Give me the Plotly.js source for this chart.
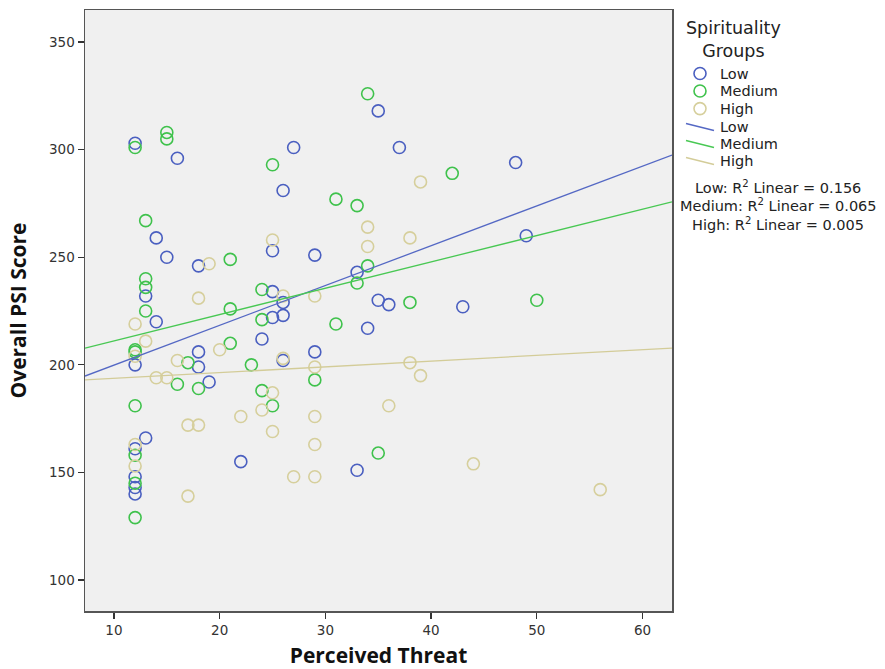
<!DOCTYPE html>
<html>
<head>
<meta charset="utf-8">
<script src="https://cdn.plot.ly/plotly-3.0.1.min.js"></script>
<style>html,body{margin:0;padding:0;background:#fff;}#chart{width:885px;height:669px;}</style>
</head>
<body>
<div id="chart"></div>
<script>
// Low spirituality group
const lowX = [12,12,12,12,12,12,13,13,14,14,15,16,18,18,18,19,22,24,25,25,25,26,26,26,26,27,29,29,33,33,34,35,35,36,37,43,48,49];
const lowY = [303,200,161,148,143,140,232,166,259,220,250,296,246,206,199,192,155,212,253,234,222,281,229,223,202,301,251,206,243,151,217,318,230,228,301,227,294,260];
// Medium spirituality group
const medX = [12,12,12,12,12,12,12,13,13,13,13,15,15,16,17,18,21,21,21,23,24,24,24,25,25,29,31,31,33,33,34,34,35,38,42,50];
const medY = [301,207,206,181,158,145,129,267,240,236,225,308,305,191,201,189,249,226,210,200,235,221,188,293,181,193,277,219,274,238,326,246,159,229,289,230];
// High spirituality group
const highX = [12,12,12,12,13,14,15,16,17,17,18,18,19,20,22,24,25,25,25,26,26,27,29,29,29,29,29,34,34,36,38,38,39,39,44,56];
const highY = [219,204,163,153,211,194,194,202,172,139,231,172,247,207,176,179,258,187,169,232,203,148,232,199,176,163,148,264,255,181,259,201,285,195,154,142];
// Fit line end points (x at plot edges)
const fitX = [7.26, 62.79];
const lowFit = [194.8, 297.5];
const medFit = [207.8, 275.7];
const highFit = [193.0, 207.8];
const groupNames = ['Low','Medium','High'];
const legendTitle = 'Spirituality<br>Groups';
const r2Labels = ['Low: R<sup>2</sup> Linear = 0.156','Medium: R<sup>2</sup> Linear = 0.065','High: R<sup>2</sup> Linear = 0.005'];

const cMark = ['#4a5fc0', '#3fc24c', '#d6cf9c'];
const cLine = ['#5468c4', '#48c853', '#d3cc98'];

function pts(x,y,i){
  return {x:x,y:y,type:'scatter',mode:'markers',name:groupNames[i],showlegend:false,
    marker:{symbol:'circle-open',size:12,color:cMark[i],line:{width:1.6,color:cMark[i]}}};
}
function fit(y,i){
  return {x:fitX,y:y,type:'scatter',mode:'lines',name:groupNames[i],showlegend:false,line:{color:cLine[i],width:1.3}};
}
const data = [
  pts(lowX,lowY,0), pts(medX,medY,1), pts(highX,highY,2),
  fit(lowFit,0), fit(medFit,1), fit(highFit,2)
];

// plot area geometry (pixels) for placing the hand-built legend
const L=85, R=672, T=10, B=611;
const px = v => (v-L)/(R-L);
const py = v => (B-v)/(B-T);
const font = (s,c) => ({family:'DejaVu Sans, sans-serif',size:s,color:c||'#222'});

const annotations = [];
const shapes = [];
annotations.push({text:legendTitle,xref:'paper',yref:'paper',x:px(733),y:py(40),xanchor:'center',yanchor:'middle',
  align:'center',showarrow:false,font:font(17.5)});
const markRows = [73.5, 91, 108.6];
const lineRows = [127, 144, 161];
groupNames.forEach((g,i)=>{
  shapes.push({type:'circle',xref:'paper',yref:'paper',xsizemode:'pixel',ysizemode:'pixel',
    xanchor:px(700),yanchor:py(markRows[i]),x0:-6,x1:6,y0:-6,y1:6,line:{color:cMark[i],width:1.6}});
  annotations.push({text:g,xref:'paper',yref:'paper',x:px(718),y:py(markRows[i]),xanchor:'left',yanchor:'middle',
    showarrow:false,font:font(14.5)});
  shapes.push({type:'line',xref:'paper',yref:'paper',xsizemode:'pixel',ysizemode:'pixel',
    xanchor:px(700),yanchor:py(lineRows[i]),x0:-14,x1:14,y0:3.5,y1:-3.5,line:{color:cLine[i],width:1.3}});
  annotations.push({text:g,xref:'paper',yref:'paper',x:px(718),y:py(lineRows[i]),xanchor:'left',yanchor:'middle',
    showarrow:false,font:font(14.5)});
});
const r2Rows = [187, 205, 223.5];
r2Labels.forEach((t,i)=>annotations.push({text:t,xref:'paper',yref:'paper',x:px(778),y:py(r2Rows[i]),
  xanchor:'center',yanchor:'middle',showarrow:false,font:font(14.5)}));

const tickFont = {family:'DejaVu Sans, sans-serif',size:13.5,color:'#333'};
const titleFont = {family:'Open Sans, sans-serif',size:21,color:'#111',weight:'bold'};
const layout = {
  width:885,height:669,
  margin:{l:L,r:885-R,t:T,b:669-B},
  paper_bgcolor:'#ffffff',plot_bgcolor:'#f0f0f0',
  showlegend:false,
  xaxis:{range:[7.26,62.79],tickvals:[10,20,30,40,50,60],ticks:'outside',ticklen:6,tickwidth:1.3,tickcolor:'#333',
    showgrid:false,zeroline:false,showline:true,linecolor:'#555',linewidth:1.5,mirror:true,tickfont:tickFont,
    title:{text:'Perceived Threat',font:titleFont,standoff:12}},
  yaxis:{range:[85.6,364.9],tickvals:[100,150,200,250,300,350],ticks:'outside',ticklen:6,tickwidth:1.3,tickcolor:'#333',
    showgrid:false,zeroline:false,showline:true,linecolor:'#555',linewidth:1.5,mirror:true,tickfont:tickFont,
    title:{text:'Overall PSI Score',font:titleFont,standoff:16}},
  annotations:annotations,
  shapes:shapes
};
Plotly.newPlot('chart',data,layout,{displayModeBar:false,staticPlot:true});
</script>
</body>
</html>
